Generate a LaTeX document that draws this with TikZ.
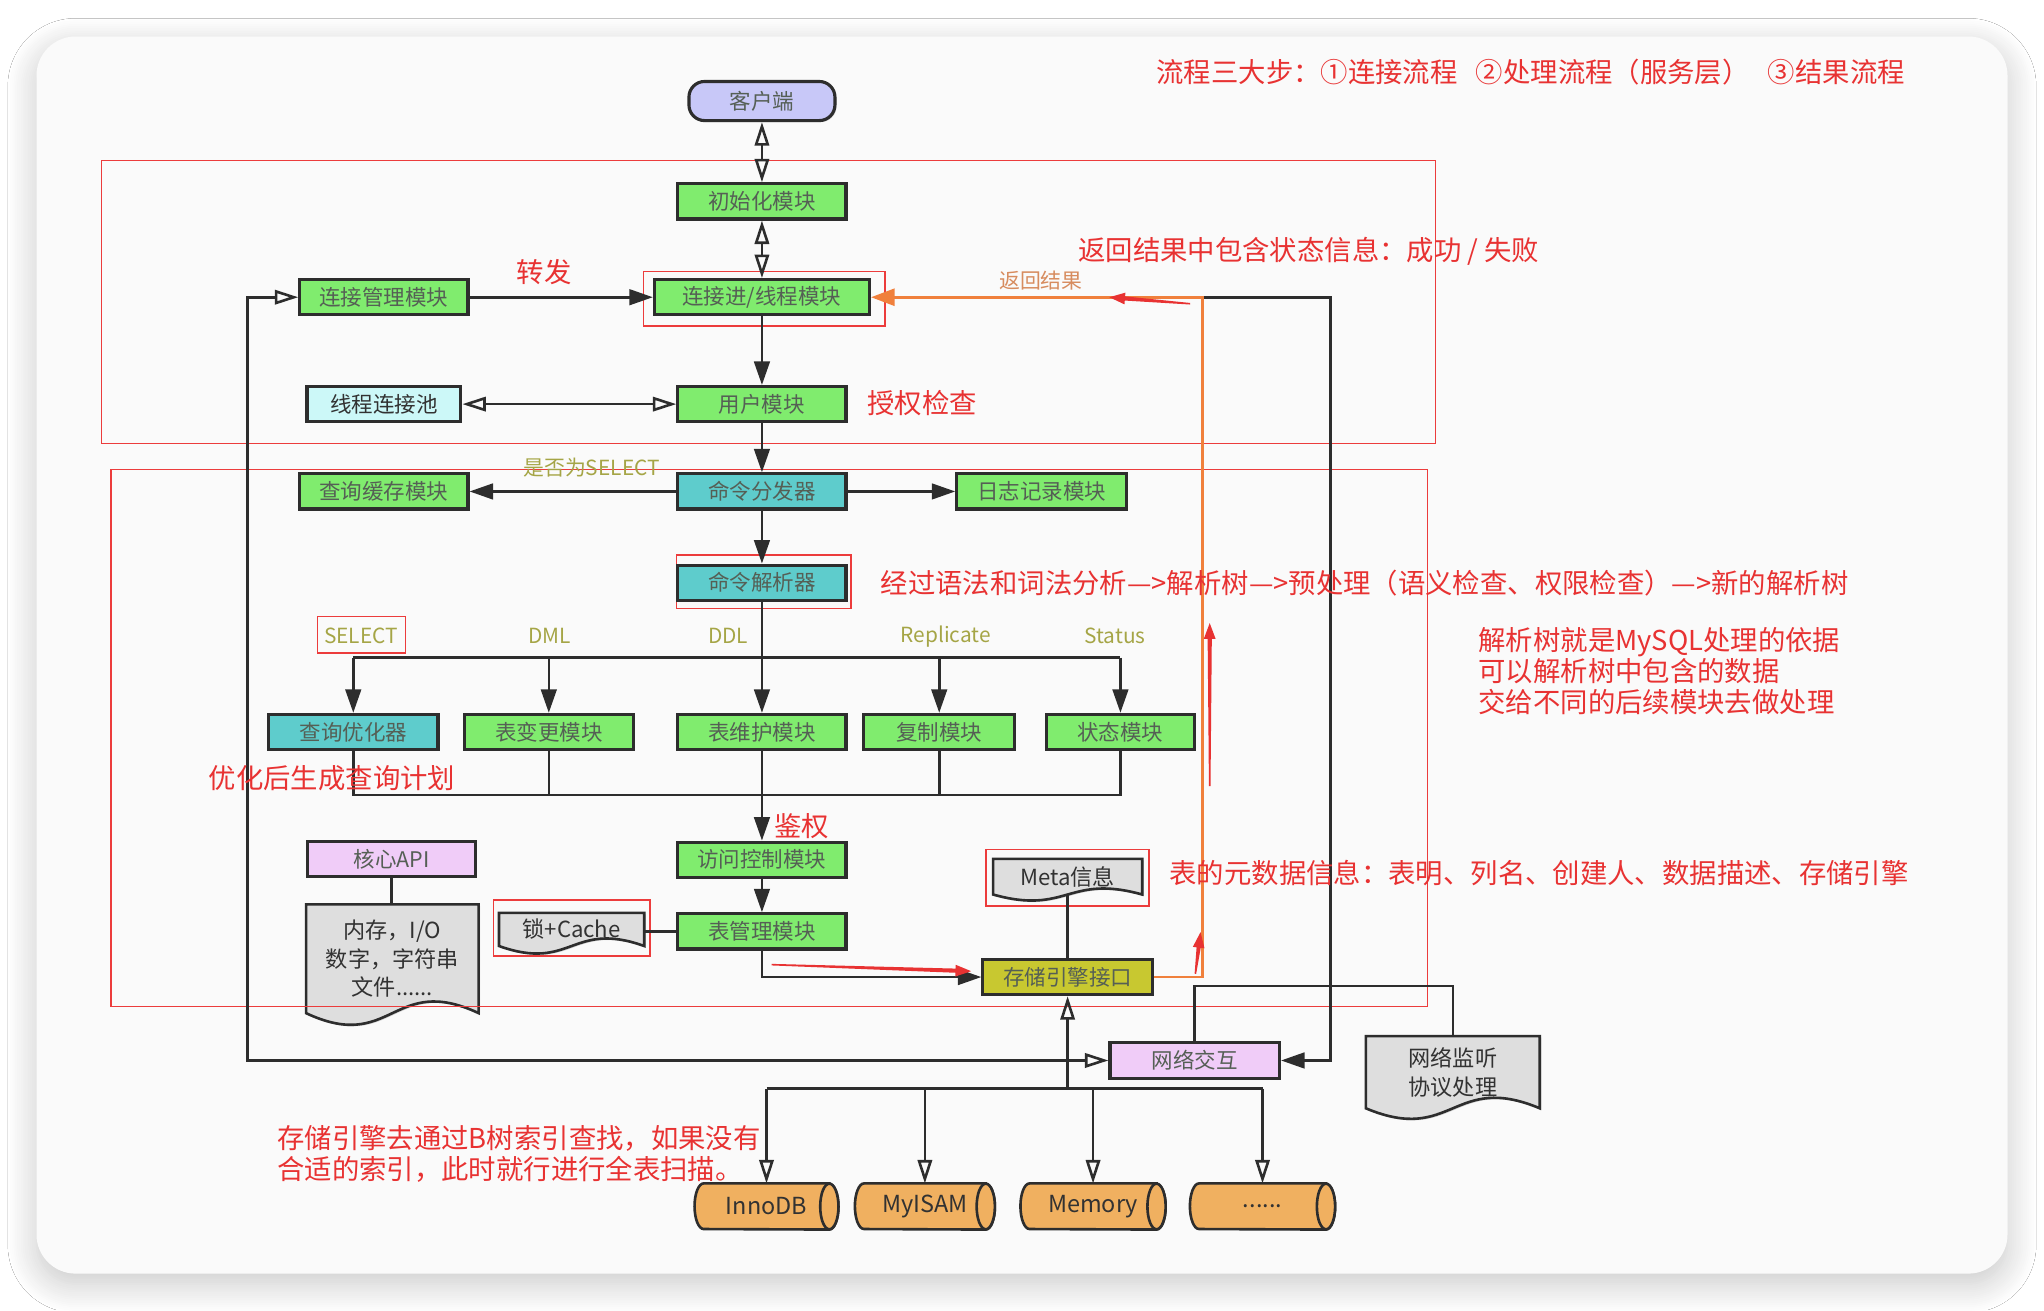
\documentclass[tikz,border=0pt]{standalone}
\usepackage{fontspec}
\setmainfont{Noto Sans CJK SC}
\usetikzlibrary{arrows.meta,calc,shadows,shadows.blur}
\pgfdeclarelayer{back}
\pgfdeclarelayer{docs}
\pgfsetlayers{back,docs,main}

\definecolor{cardbg}{RGB}{250,250,250}
\definecolor{gfill}{RGB}{128,236,110}
\definecolor{tfill}{RGB}{94,204,204}
\definecolor{lfill}{RGB}{200,200,248}
\definecolor{cfill}{RGB}{204,248,248}
\definecolor{pfill}{RGB}{240,204,248}
\definecolor{ofill}{RGB}{200,200,48}
\definecolor{dfill}{RGB}{222,222,222}
\definecolor{cyfill}{RGB}{240,176,96}
\definecolor{boxtxt}{RGB}{85,95,85}
\definecolor{darktxt}{RGB}{50,50,50}
\definecolor{edge}{RGB}{45,45,45}
\definecolor{annred}{RGB}{232,50,50}
\definecolor{frred}{RGB}{236,60,60}
\definecolor{oline}{RGB}{240,128,60}
\definecolor{olab}{RGB}{165,165,70}
\definecolor{rettxt}{RGB}{215,140,95}

\newcommand\annfont{\fontsize{21}{24}\selectfont}
\newcommand\boxfont{\fontsize{16.5}{18}\selectfont}
\newcommand\labfont{\fontsize{16}{18}\selectfont}
\newcommand\docfont{\fontsize{17}{22}\selectfont}

\newcommand\docshape[2]{%
  \begin{pgfonlayer}{docs}
  \draw[draw=edge, line width=2pt, fill=dfill, drop shadow={shadow xshift=1.2pt,shadow yshift=-1.2pt,opacity=.3}]
    (#1.south west) -- (#1.north west) -- (#1.north east) -- (#1.south east)
    .. controls ($(#1.south)+(0,-#2)$) and ($(#1.south)+(0,#2)$) .. (#1.south west) -- cycle;
  \end{pgfonlayer}}

\newcommand\cylshape[1]{%
  \begin{pgfonlayer}{docs}
  \draw[draw=edge, line width=2pt, fill=cyfill]
    ($(#1.north east)+(-7,0)$) -- ($(#1.north west)+(7,0)$)
    arc[start angle=270, end angle=90, x radius=7, y radius=17.5]
    -- ($(#1.south east)+(-7,0)$)
    arc[start angle=90, end angle=-90, x radius=7, y radius=17.5] -- cycle;
  \draw[draw=edge, line width=2pt, fill=cyfill] ($(#1.east)+(-7,0)$) ellipse [x radius=7, y radius=17.5];
  \end{pgfonlayer}}

\newcommand\handarrow[2]{%
  \coordinate (hh) at ($(#2)!12pt!(#1)$);
  \fill[annred] ($(#1)!0.6pt!90:(#2)$) -- ($(hh)!1.6pt!90:(#2)$) -- ($(hh)!4.5pt!90:(#2)$) -- (#2)
    -- ($(hh)!4.5pt!-90:(#2)$) -- ($(hh)!1.6pt!-90:(#2)$) -- ($(#1)!0.6pt!-90:(#2)$) -- cycle;}

\tikzset{
  mod/.style={draw=edge, line width=2.4pt, fill=gfill, minimum height=27pt, minimum width=129pt,
    inner sep=0pt, text=boxtxt, font=\boxfont,
    drop shadow={shadow xshift=1.2pt,shadow yshift=-1.2pt,opacity=.3}},
  tmod/.style={mod, fill=tfill},
  pmod/.style={mod, fill=pfill},
  frame/.style={draw=frred, line width=1.1pt, inner sep=0pt},
  docn/.style={inner sep=0pt, text=darktxt, font=\docfont, align=center},
  cyln/.style={inner sep=0pt, minimum height=35pt, text=darktxt, font=\fontsize{18}{20}\selectfont},
  conn/.style={draw=edge, line width=2pt},
  fa/.style={conn, -{Triangle[length=18pt,width=12pt]}},
  oa/.style={conn, -{Triangle[open,length=18pt,width=11pt]}},
  ob/.style={conn, {Triangle[open,length=18pt,width=11pt]}-{Triangle[open,length=18pt,width=11pt]}},
  ann/.style={text=annred, font=\annfont, inner sep=0pt},
  olabel/.style={text=olab, font=\labfont, inner sep=0pt},
}

\begin{document}
\begin{tikzpicture}[x=1pt,y=-1pt]
\useasboundingbox (0,0) rectangle (1568,1005);
\begin{pgfonlayer}{back}
  \fill[white] (0,0) rectangle (1568,1005);
  \fill[cardbg, rounded corners=30pt, blur shadow={shadow blur radius=22pt, shadow xshift=0pt, shadow yshift=-8pt, shadow opacity=22, shadow blur steps=16}] (28,28) rectangle (1540,977);
\end{pgfonlayer}

% frames
\node[frame, minimum width=1023pt, minimum height=217pt] (fr1) at (589.5,231.5) {};
\node[frame, minimum width=1010pt, minimum height=412pt] (fr2) at (590,566) {};
\node[frame, minimum width=185pt, minimum height=42pt] (hl1) at (586.3,229.2) {};
\node[frame, minimum width=134pt, minimum height=41pt] (hl2) at (585.8,446.2) {};
\node[frame, minimum width=67.5pt, minimum height=28pt] (hl3) at (277.2,487) {};
\node[frame, minimum width=120pt, minimum height=43pt] (hl4) at (438.5,712) {};
\node[frame, minimum width=125pt, minimum height=43.5pt] (hl5) at (818.8,673.3) {};

% modules
\node[mod, fill=lfill, rounded corners=12pt, minimum width=112pt, minimum height=30pt] (client) at (584.5,77.5) {客户端};
\node[mod] (init) at (584.5,154.5) {初始化模块};
\node[mod] (connmgr) at (294.5,228) {连接管理模块};
\node[mod, minimum width=165pt] (connthread) at (584.5,228) {连接进/线程模块};
\node[mod, fill=cfill, minimum width=118pt, text=darktxt] (pool) at (294.5,310) {线程连接池};
\node[mod] (user) at (584.5,310) {用户模块};
\node[tmod] (dispatch) at (584.5,377) {命令分发器};
\node[mod] (cache) at (294.5,377) {查询缓存模块};
\node[mod, minimum width=130pt] (log) at (799,377) {日志记录模块};
\node[tmod] (parser) at (584.5,447) {命令解析器};
\node[tmod, minimum width=130pt] (opt) at (271,561.5) {查询优化器};
\node[mod, minimum width=130pt] (dml) at (421,561.5) {表变更模块};
\node[mod] (ddl) at (584.5,561.5) {表维护模块};
\node[mod, minimum width=116pt] (repl) at (720.5,561.5) {复制模块};
\node[mod, minimum width=114pt] (status) at (859.5,561.5) {状态模块};
\node[mod] (access) at (584.5,659.5) {访问控制模块};
\node[mod] (tblmgr) at (584.5,714.5) {表管理模块};
\node[pmod] (coreapi) at (300.5,659) {核心API};
\node[mod, fill=ofill, minimum width=130pt] (sei) at (819,749.5) {存储引擎接口};
\node[pmod, minimum width=130pt] (net) at (916.5,813.5) {网络交互};

% documents
\node[docn, minimum width=132pt, minimum height=83pt] (mem) at (301,735.5) {内存，I/O\\数字，字符串\\文件......};
\node[docn, minimum width=111pt, minimum height=25pt] (lock) at (438.5,713) {锁+Cache};
\node[docn, minimum width=114pt, minimum height=27pt] (meta) at (819,672.5) {Meta信息};
\node[docn, minimum width=133pt, minimum height=55pt] (netdoc) at (1114.5,822.5) {网络监听\\协议处理};
\docshape{mem}{31}
\docshape{lock}{20}
\docshape{meta}{16}
\docshape{netdoc}{28}

% cylinders
\node[cyln, minimum width=110pt] (inno) at (588,925.5) {InnoDB\hspace{7pt}};
\node[cyln, minimum width=107pt] (myisam) at (709.5,925.5) {MyISAM\hspace{7pt}};
\node[cyln, minimum width=111pt] (memory) at (838.5,925.5) {Memory\hspace{7pt}};
\node[cyln, minimum width=111pt] (dots) at (968.5,925.5) {......\hspace{7pt}};
\cylshape{inno}
\cylshape{myisam}
\cylshape{memory}
\cylshape{dots}

% connectors
\draw[ob] (client.south) -- (init.north);
\draw[ob] (init.south) -- (connthread.north);
\draw[fa] (connmgr.east) -- (connthread.west);
\draw[fa] (connthread.south) -- (user.north);
\draw[ob] (pool.east) -- (user.west);
\draw[fa] (user.south) -- (dispatch.north);
\draw[fa] (dispatch.west) -- (cache.east);
\draw[fa] (dispatch.east) -- (log.west);
\draw[fa] (dispatch.south) -- (parser.north);
\coordinate (br) at (584.5,504.5);
\draw[conn] (opt.north |- br) -- (status.north |- br);
\draw[fa] (parser.south) -- (ddl.north);
\foreach \n in {opt,dml,repl,status} \draw[fa] (\n.north |- br) -- (\n.north);
\coordinate (mg) at (584.5,610);
\draw[conn] (opt.south) -- (opt.south |- mg) -- (status.south |- mg) -- (status.south);
\draw[conn] (dml.south) -- (dml.south |- mg);
\draw[conn] (repl.south) -- (repl.south |- mg);
\draw[fa] (ddl.south) -- (access.north);
\draw[fa] (access.south) -- (tblmgr.north);
\draw[fa] (tblmgr.south) -- (tblmgr.south |- sei.west) -- (sei.west);
\draw[conn] (lock.east |- tblmgr.west) -- (tblmgr.west);
\draw[conn] (coreapi.south) -- (coreapi.south |- mem.north);
\draw[conn] (meta.south) -- (sei.north);
\coordinate (ot) at (922.5,228);
\coordinate (bk) at (1020.5,228);
\draw[fa] (ot) -- (bk) -- (bk |- net.east) -- (net.east);
\draw[draw=oline, line width=2pt, -{Triangle[length=18pt,width=13pt]}] (sei.east) -- (sei.east -| ot) -- (ot) -- (connthread.east);
\coordinate (lp) at (190,228);
\draw[ob] (connmgr.west) -- (lp) -- (lp |- net.west) -- (net.west);
\coordinate (nw) at (916.5,756.5);
\draw[conn] (net.north) -- (net.north |- nw) -- (netdoc.north |- nw) -- (netdoc.north);
\coordinate (st) at (819,835);
\draw[conn, {Triangle[open,length=18pt,width=11pt]}-] (sei.south) -- (sei.south |- st);
\draw[conn] (inno.north |- st) -- (dots.north |- st);
\foreach \n in {inno,myisam,memory,dots} \draw[oa] (\n.north |- st) -- (\n.north);

% labels
\node[olabel] (isselect) at (453.8,359) {是否为SELECT};
\node[olabel] (lsel) at (277,487.6) {SELECT};
\node[olabel] (ldml) at (421.5,488) {DML};
\node[olabel] (lddl) at (558.5,488) {DDL};
\node[olabel] (lrep) at (725.4,488) {Replicate};
\node[olabel] (lsta) at (855.5,488) {Status};
\node[text=rettxt, font=\labfont, inner sep=0pt] (ret) at (798.5,215) {返回结果};

% annotations
\node[ann] (a1) at (417.5,208.5) {转发};
\node[ann] (a2) at (707.5,309.5) {授权检查};
\node[ann, anchor=west] (a3) at (675.5,447.5) {经过语法和词法分析—>解析树—>预处理（语义检查、权限检查）—>新的解析树};
\node[ann, anchor=west] (a4) at (160,597) {优化后生成查询计划};
\node[ann, anchor=west] (a5) at (594,634) {鉴权};
\node[ann, anchor=west] (a6) at (897,670) {表的元数据信息：表明、列名、创建人、数据描述、存储引擎};
\node[ann, anchor=west] (a7) at (827,193) {返回结果中包含状态信息：成功 / 失败};
\node[ann, anchor=west] (a8) at (887,55) {流程三大步：①连接流程\hspace{14pt}②处理流程（服务层）\hspace{14pt}③结果流程};
\node[ann, anchor=north west, align=left] (a9) at (1134,481) {解析树就是MySQL处理的依据\\可以解析树中包含的数据\\交给不同的后续模块去做处理};
\node[ann, anchor=north west, align=left] (a10) at (212.5,863) {存储引擎去通过B树索引查找，如果没有\\合适的索引，此时就行进行全表扫描。};

% hand-drawn red arrows
\coordinate (h1a) at (913,233); \coordinate (h1b) at (851,228);
\coordinate (h2a) at (592,740); \coordinate (h2b) at (745,745);
\coordinate (h3a) at (917,747); \coordinate (h3b) at (921,715);
\coordinate (h4a) at (928,603); \coordinate (h4b) at (928,478);
\handarrow{h1a}{h1b}
\handarrow{h2a}{h2b}
\handarrow{h3a}{h3b}
\handarrow{h4a}{h4b}
\end{tikzpicture}
\end{document}
